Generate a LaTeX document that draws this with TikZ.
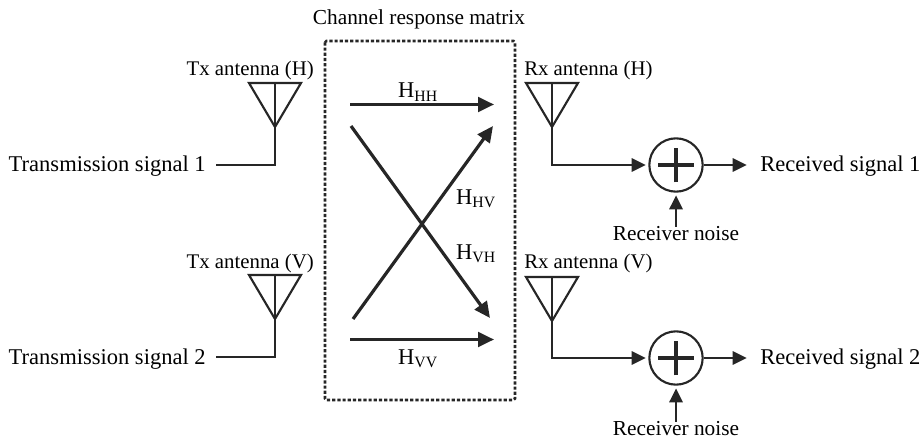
\documentclass[tikz,border=0pt]{standalone}
\usepackage{fontspec}
\setmainfont{Liberation Serif}
\usetikzlibrary{arrows.meta,positioning}
\tikzset{
  x=0.75pt,y=-0.75pt,
  line/.style={draw=black!85,line width=1.6pt},
  thick line/.style={draw=black!85,line width=2.4pt},
  tip/.style={-{Triangle[length=10.5pt,width=10pt]}},
  big tip/.style={-{Triangle[length=12pt,width=11pt]}},
  label/.style={inner sep=0pt,font=\fontsize{16.9pt}{19pt}\selectfont},
  small label/.style={inner sep=0pt,font=\fontsize{16pt}{18pt}\selectfont},
  ant label/.style={inner sep=0pt,font=\fontsize{15.6pt}{18pt}\selectfont},
  summer/.style={circle,draw=black!85,line width=1.6pt,minimum size=40pt,inner sep=0pt},
  ant/.style={line join=miter,draw=black!85,line width=1.6pt},
}
\newcommand{\antenna}[2]{% name, tip of the triangle
  \coordinate (#1) at #2;
  \draw[ant] (#1) -- ++(-26,-44) -- ++(52,0) -- cycle;
  \draw[ant] (#1) -- ++(0,-44);
}
\newcommand{\Hsub}[1]{H\textsubscript{#1}}
\begin{document}
\begin{tikzpicture}
  \useasboundingbox (0,0) rectangle (923,441);
  \draw[black!85,line width=1.9pt,dash pattern=on 2.4pt off 1.5pt,rounded corners=1pt] (325,41) rectangle (515,400);
  \node[small label] (matrix) at (419,19.5) {Channel response matrix};

  % antennas
  \antenna{txh}{(275,127)}
  \antenna{txv}{(275,319)}
  \antenna{rxh}{(552,127)}
  \antenna{rxv}{(552,321)}
  \node[ant label,anchor=east] (txhlab) at (314,70.5) {Tx antenna (H)};
  \node[ant label,anchor=east] (txvlab) at (314,263.5) {Tx antenna (V)};
  \node[ant label,anchor=west] (rxhlab) at (524,70.5) {Rx antenna (H)};
  \node[ant label,anchor=west] (rxvlab) at (524,263.5) {Rx antenna (V)};

  % inputs
  \node[label,anchor=east] (sig1) at (206,166.5) {Transmission signal 1};
  \node[label,anchor=east] (sig2) at (206,359.5) {Transmission signal 2};
  \coordinate (in1) at (216,165);
  \coordinate (in2) at (216,357);
  \draw[line] (in1) -| (txh);
  \draw[line] (in2) -| (txv);

  % channel
  \coordinate (hh1) at (350,104.5);
  \coordinate (hh2) at (494,104.5);
  \coordinate (vv1) at (350,339.5);
  \coordinate (vv2) at (494,339.5);
  \coordinate (hv1) at (353,319);
  \coordinate (hv2) at (493,126);
  \coordinate (vh1) at (351,126);
  \coordinate (vh2) at (490,318);
  \draw[thick line,big tip] (hh1) -- (hh2);
  \draw[thick line,big tip] (vv1) -- (vv2);
  \draw[thick line,big tip] (hv1) -- (hv2);
  \draw[thick line,big tip] (vh1) -- (vh2);
  \node[label] (HH) at (418,92) {\Hsub{HH}};
  \node[label] (HV) at (476,199) {\Hsub{HV}};
  \node[label] (VH) at (476,254) {\Hsub{VH}};
  \node[label] (VV) at (418,359) {\Hsub{VV}};

  % receivers
  \node[summer] (sum1) at (676,165) {};
  \node[summer] (sum2) at (676,358) {};
  \foreach \s in {sum1,sum2} {
    \draw[line width=2.4pt,draw=black!85] ([xshift=-13.5pt]\s.center) -- ([xshift=13.5pt]\s.center);
    \draw[line width=2.4pt,draw=black!85] ([yshift=-13pt]\s.center) -- ([yshift=13pt]\s.center);
  }
  \draw[line,tip,shorten >=2pt] (rxh) |- (sum1);
  \draw[line,tip,shorten >=2pt] (rxv) |- (sum2);
  \node[label,anchor=west] (out1) at (760,166.5) {Received signal 1};
  \node[label,anchor=west] (out2) at (760,359.5) {Received signal 2};
  \draw[line,tip,shorten >=10pt] (sum1.east) -- (sum1.east -| out1.west);
  \draw[line,tip,shorten >=10pt] (sum2.east) -- (sum2.east -| out2.west);
  \node[small label] (noise1) at (676,234) {Receiver noise};
  \node[small label] (noise2) at (676,429) {Receiver noise};
  \draw[line,tip,shorten >=2pt] (noise1) -- (sum1);
  \draw[line,tip,shorten >=2pt] (noise2) -- (sum2);
\end{tikzpicture}
\end{document}
